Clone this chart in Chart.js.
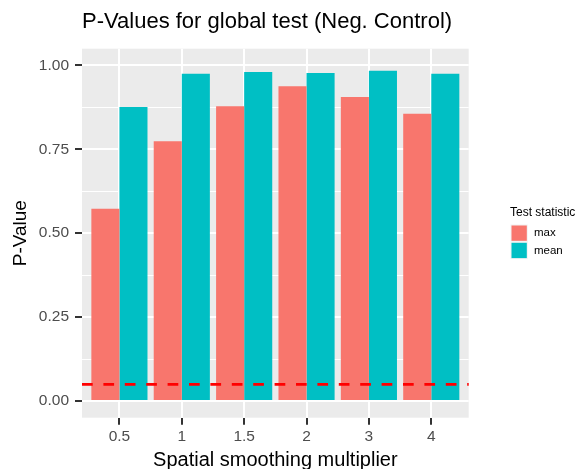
<!DOCTYPE html>
<html>
<head>
<meta charset="utf-8">
<script src="https://cdn.jsdelivr.net/npm/chart.js@4.4.1/dist/chart.umd.min.js"></script>
<style>
html,body{margin:0;padding:0;background:#fff;}
canvas{display:block;}
</style>
</head>
<body>
<canvas id="c" width="579" height="469"></canvas>
<script>
const categories = ['0.5', '1', '1.5', '2', '3', '4'];
const maxValues = [0.573, 0.774, 0.878, 0.938, 0.906, 0.856];
const meanValues = [0.876, 0.975, 0.980, 0.977, 0.984, 0.975];
const yTickValues = [0, 0.25, 0.5, 0.75, 1];
const yMinorValues = [0.125, 0.375, 0.625, 0.875];
const threshold = 0.05;
const seriesNames = ['max', 'mean'];
const seriesColors = ['#F8766D', '#00BFC4'];
const titleText = 'P-Values for global test (Neg. Control)';
const xTitle = 'Spatial smoothing multiplier';
const yTitle = 'P-Value';
const legendTitle = 'Test statistic';

const FONT = "'Liberation Sans', Arial, sans-serif";

const panelBg = {
  id: 'panelBg',
  beforeDraw(chart) {
    const {ctx, chartArea: a} = chart;
    ctx.save();
    ctx.fillStyle = '#fff';
    ctx.fillRect(0, 0, chart.width, chart.height);
    ctx.fillStyle = '#EBEBEB';
    ctx.fillRect(a.left, a.top, a.right - a.left, a.bottom - a.top);
    ctx.restore();
  }
};

const hline = {
  id: 'hline',
  afterDatasetsDraw(chart) {
    const {ctx, chartArea: a, scales} = chart;
    const y = scales.y.getPixelForValue(threshold);
    ctx.save();
    ctx.strokeStyle = '#FF0000';
    ctx.lineWidth = 2.7;
    ctx.setLineDash([10.7, 10.7]);
    ctx.beginPath();
    ctx.moveTo(a.left, y);
    ctx.lineTo(a.right, y);
    ctx.stroke();
    ctx.restore();
  }
};

const texts = {
  id: 'texts',
  afterDraw(chart) {
    const {ctx, chartArea: a} = chart;
    ctx.save();
    ctx.fillStyle = '#000';
    ctx.font = '22px ' + FONT;
    ctx.textAlign = 'left';
    ctx.textBaseline = 'alphabetic';
    ctx.fillText(titleText, a.left, 28.3);
    ctx.font = '20px ' + FONT;
    ctx.textAlign = 'center';
    ctx.fillText(xTitle, (a.left + a.right) / 2, 465.7);
    ctx.save();
    ctx.translate(26, (a.top + a.bottom) / 2);
    ctx.rotate(-Math.PI / 2);
    ctx.font = '19px ' + FONT;
    ctx.textAlign = 'center';
    ctx.fillText(yTitle, 0, 0);
    ctx.restore();
    ctx.font = '12px ' + FONT;
    ctx.textAlign = 'left';
    ctx.fillStyle = '#000';
    ctx.fillText(legendTitle, 510, 216);
    const keyX = 510.5, keyY0 = 224.5, keySize = 17.3;
    chart.data.datasets.forEach((ds, i) => {
      const ky = keyY0 + i * keySize;
      ctx.fillStyle = '#F2F2F2';
      ctx.fillRect(keyX, ky, keySize, keySize);
      ctx.fillStyle = ds.backgroundColor;
      ctx.fillRect(keyX + 1, ky + 1, keySize - 2, keySize - 2);
      ctx.fillStyle = '#000';
      ctx.font = '11.5px ' + FONT;
      ctx.textBaseline = 'middle';
      ctx.fillText(ds.label, 534, ky + keySize / 2);
    });
    ctx.restore();
  }
};

const datasets = seriesNames.map((name, k) => ({
  label: name,
  data: (k === 0 ? maxValues : meanValues).map((v, i) => ({x: i, y: v})),
  backgroundColor: seriesColors[k],
  borderWidth: 0,
  categoryPercentage: 0.9,
  barPercentage: 1.0
}));

new Chart(document.getElementById('c'), {
  type: 'bar',
  data: {datasets},
  options: {
    responsive: false,
    animation: false,
    devicePixelRatio: 1,
    layout: {padding: {top: 48.7, right: 110.3, left: 0, bottom: 0}},
    plugins: {legend: {display: false}, title: {display: false}, tooltip: {enabled: false}},
    scales: {
      x: {
        type: 'linear',
        min: -0.6,
        max: 5.6,
        offset: false,
        afterBuildTicks(s) { s.ticks = categories.map((c, i) => ({value: i})); },
        afterFit(s) { s.height = 51.3; },
        border: {display: false},
        grid: {offset: false, color: '#FFFFFF', lineWidth: 2, tickLength: 7, tickColor: '#333333', tickWidth: 2},
        ticks: {
          callback: (v) => categories[v],
          color: '#4D4D4D',
          font: {family: FONT, size: 15.5},
          padding: 3,
          maxRotation: 0,
          autoSkip: false
        }
      },
      y: {
        type: 'linear',
        min: -0.0495,
        max: 1.0495,
        afterBuildTicks(s) {
          s.ticks = yTickValues.concat(yMinorValues).sort((a, b) => a - b).map(v => ({value: v}));
        },
        afterFit(s) { s.width = 82; },
        border: {display: false},
        grid: {
          offset: false,
          color: '#FFFFFF',
          lineWidth: (c) => (c.tick && yTickValues.includes(c.tick.value)) ? 2 : 1,
          tickLength: 7,
          tickColor: (c) => (c.tick && yTickValues.includes(c.tick.value)) ? '#333333' : 'rgba(0,0,0,0)',
          tickWidth: 2
        },
        ticks: {
          callback: (v) => yTickValues.includes(v) ? v.toFixed(2) : '',
          color: '#4D4D4D',
          font: {family: FONT, size: 15.5},
          padding: 6,
          autoSkip: false
        }
      }
    }
  },
  plugins: [panelBg, hline, texts]
});
</script>
</body>
</html>
